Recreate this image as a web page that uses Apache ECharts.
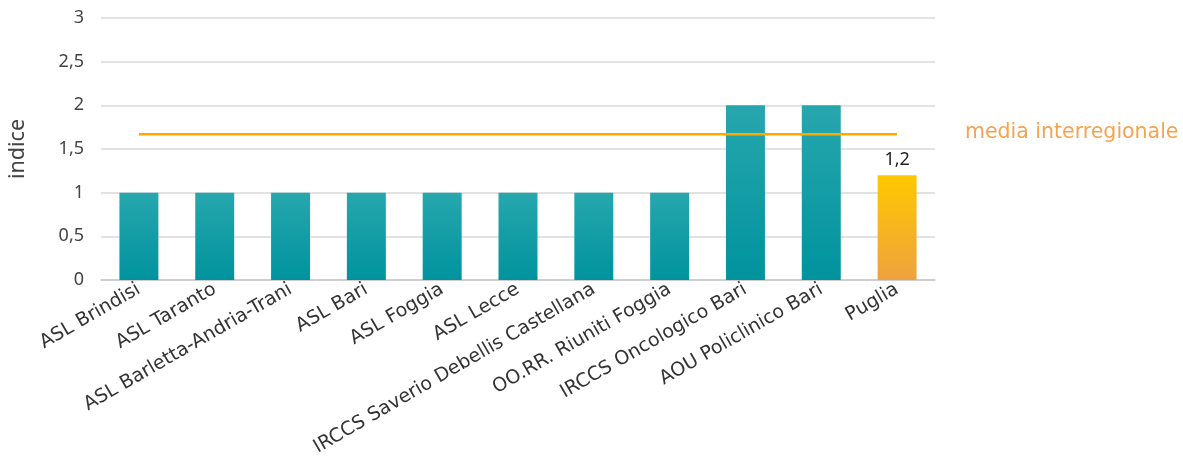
<!DOCTYPE html>
<html><head><meta charset="utf-8">
<script src="https://cdn.jsdelivr.net/npm/echarts@6/dist/echarts.min.js"></script>
<style>html,body{margin:0;padding:0;background:#fff}#c{width:1183px;height:464px}</style>
</head><body><div id="c"></div>
<script>
const categories = ['ASL Brindisi','ASL Taranto','ASL Barletta-Andria-Trani','ASL Bari','ASL Foggia','ASL Lecce','IRCCS Saverio Debellis Castellana','OO.RR. Riuniti Foggia','IRCCS Oncologico Bari','AOU Policlinico Bari','Puglia'];
const indexValues = [1,1,1,1,1,1,1,1,2,2,1.2];
const interregionalMean = [1.67,1.67,1.67,1.67,1.67,1.67,1.67,1.67,1.67,1.67,1.67];
const yTicks = [0,0.5,1,1.5,2,2.5,3];

const teal = new echarts.graphic.LinearGradient(0,0,0,1,[{offset:0,color:'#27a7ad'},{offset:1,color:'#00939e'}]);
const gold = new echarts.graphic.LinearGradient(0,0,0,1,[{offset:0,color:'#ffc800'},{offset:1,color:'#eea23e'}]);
const FONT = "'Noto Sans'";
const LFONT = "'DejaVu Sans'";

const chart = echarts.init(document.getElementById('c'));
chart.setOption({
  animation:false,
  textStyle:{fontFamily:FONT},
  grid:{left:101,right:248,top:18,bottom:184,containLabel:false,outerBoundsMode:'none'},
  xAxis:{type:'category',data:categories,
    axisLine:{lineStyle:{color:'#c8c8c8',width:1.5}},axisTick:{show:false},
    axisLabel:{rotate:30,interval:0,color:'#333',fontSize:19,margin:8,fontFamily:LFONT}},
  yAxis:{type:'value',min:yTicks[0],max:yTicks[yTicks.length-1],interval:0.5,
    name:'indice',nameLocation:'middle',nameGap:72,nameRotate:90,
    nameTextStyle:{color:'#444',fontSize:21.5,fontFamily:FONT},
    axisLine:{show:false},axisTick:{show:false},
    splitLine:{lineStyle:{color:'#d9d9d9',width:1.5}},
    axisLabel:{color:'#444',fontSize:18,margin:17,fontFamily:FONT,formatter:v=>String(v).replace('.',',')}},
  series:[
    {type:'bar',barWidth:'51.4%',
     data:indexValues.map((v,i)=>({value:v,itemStyle:{color:i===categories.length-1?gold:teal},
       label:{show:i===categories.length-1,position:'top',color:'#222',fontSize:18,distance:6,fontFamily:FONT,formatter:p=>String(p.value).replace('.',',')}}))},
    {type:'line',data:interregionalMean,symbol:'none',z:5,
     lineStyle:{color:'#ffa800',width:2.5}}
  ],
  graphic:[{type:'text',left:965,top:122,style:{text:'media interregionale',fill:'#f5a351',fontSize:20.5,fontFamily:LFONT}}]
});
</script></body></html>
